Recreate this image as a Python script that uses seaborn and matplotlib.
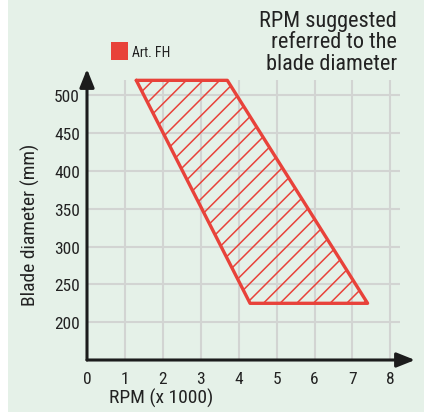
import matplotlib
matplotlib.use("Agg")
import matplotlib.pyplot as plt
from matplotlib import font_manager as fm
import seaborn as sns
import pandas as pd
from matplotlib.patches import Rectangle

# ---- data ----
rpm_k = [1.3, 3.7, 7.4, 4.3, 1.3]          # RPM (x 1000), polygon corners
blade_mm = [520, 520, 225, 225, 520]       # blade diameter (mm)
x_ticks = [0, 1, 2, 3, 4, 5, 6, 7, 8]
y_ticks = [200, 250, 300, 350, 400, 450, 500]
series_label = "Art. FH"
title_text = "RPM suggested\nreferred to the\nblade diameter"

RED = "#e8423a"
BG = "#e5f1e8"
INK = "#222222"
GRID = "#d2d4d2"

available = {f.name for f in fm.fontManager.ttflist}
FONT = next((n for n in ["Roboto Condensed", "Liberation Sans Narrow", "Archivo Narrow",
                         "PT Sans Narrow", "Barlow Semi Condensed", "Roboto", "DejaVu Sans"]
             if n in available), "DejaVu Sans")

sns.set_theme(style="white")
plt.rcParams["font.family"] = [FONT, "DejaVu Sans"]
plt.rcParams["hatch.linewidth"] = 1.1

W, H = 424, 414
fig = plt.figure(figsize=(W / 100, H / 100), dpi=100)
fig.patch.set_facecolor("white")
fig.patches.append(Rectangle((8 / W, 1 / H), 1, 1, transform=fig.transFigure,
                             facecolor=BG, edgecolor="none", zorder=-10))

ax = fig.add_axes([87 / W, 53 / H, (415 - 87) / W, (361 - 70) / H])
ax.set_facecolor("none")
ax.set_xlim(0, 8.65)
ax.set_ylim(150, 535)

# grid
ax.vlines(x_ticks[1:], 150, 520, color=GRID, lw=1.5, zorder=0)
ax.hlines(y_ticks, 0, 8.25, color=GRID, lw=1.5, zorder=0)

df = pd.DataFrame({"rpm": rpm_k, "diameter": blade_mm})
ax.fill(df["rpm"], df["diameter"], facecolor="none", edgecolor=RED,
        hatch="//", lw=0, zorder=2)
sns.lineplot(data=df, x="rpm", y="diameter", sort=False, estimator=None,
             color=RED, lw=2.4, ax=ax, zorder=3)

for s in ax.spines.values():
    s.set_visible(False)

arrow_kw = dict(arrowstyle="-|>,head_length=0.55,head_width=0.22",
                lw=2.2, color="#1c1c1c", mutation_scale=20, shrinkA=0, shrinkB=0)
ax.annotate("", xy=(1, 0), xytext=(0, 0), xycoords="axes fraction",
            textcoords="axes fraction", arrowprops=arrow_kw)
ax.annotate("", xy=(0, 1), xytext=(0, 0), xycoords="axes fraction",
            textcoords="axes fraction", arrowprops=arrow_kw)

ax.set_xticks(x_ticks)
ax.set_yticks(y_ticks)
ax.tick_params(axis="both", length=0, labelsize=12.5, colors=INK)
ax.tick_params(axis="x", pad=8)
ax.tick_params(axis="y", pad=5)
ax.set_xlabel("RPM (x 1000)", fontsize=14, color=INK)
ax.set_ylabel("Blade diameter (mm)", fontsize=14, color=INK)
ax.xaxis.set_label_coords((161 - 87) / (415 - 87), -(398 - 361) / (361 - 70))
ax.yaxis.set_label_coords(-(87 - 30) / (415 - 87), (361 - 225) / (361 - 70))
ax.xaxis.label.set_va("center")
ax.yaxis.label.set_va("center")

# legend key
fig.patches.append(Rectangle((111 / W, 1 - 61 / H), 17 / W, 18 / H,
                             transform=fig.transFigure, facecolor=RED,
                             edgecolor="none"))
fig.text(132 / W, 1 - 53 / H, series_label, ha="left", va="center",
         fontsize=10, color=INK)

fig.text(397 / W, 1 - 11 / H, title_text, ha="right", va="top",
         fontsize=16, linespacing=1.02, color=INK)

fig.savefig("out.png", dpi=100)
